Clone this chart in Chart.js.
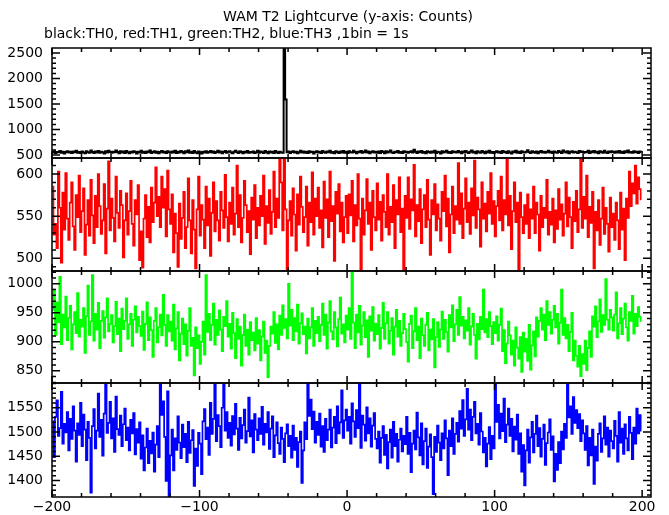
<!DOCTYPE html>
<html>
<head>
<meta charset="utf-8">
<script src="https://cdn.jsdelivr.net/npm/chart.js@4.4.0/dist/chart.umd.min.js"></script>
<style>
  body { margin: 0; background: #fff; }
  #wrap { position: relative; width: 669px; height: 515px; }
  #wrap canvas { position: absolute; left: 0; }
</style>
</head>
<body>
<div id="wrap">
  <canvas id="c0"></canvas>
  <canvas id="c1"></canvas>
  <canvas id="c2"></canvas>
  <canvas id="c3"></canvas>
</div>
<script>
const titleText = 'WAM T2 Lightcurve (y-axis: Counts)';
const subtitleText = 'black:TH0, red:TH1, green:TH2, blue:TH3 ,1bin = 1s';

const binStart = -200; // left edge of first 1 s bin

// counts per 1 s bin
const th0 = [
  548, 572, 539, 561, 553, 580, 544, 566, 531, 558, 575, 549, 562, 538, 570, 552, 584, 546, 559, 541,
  567, 550, 533, 574, 556, 545, 588, 560, 537, 569, 551, 579, 542, 563, 555, 530, 571, 548, 582, 557,
  543, 565, 552, 590, 561, 536, 573, 549, 568, 540, 577, 555, 534, 562, 547, 575, 558, 529, 566, 551,
  581, 546, 563, 537, 570, 553, 587, 541, 559, 574, 545, 566, 532, 557, 578, 550, 563, 538, 572, 556,
  544, 569, 551, 583, 539, 562, 548, 576, 557, 535, 571, 553, 590, 546, 564, 541, 579, 555, 536, 568,
  553, 528, 566, 549, 574, 543, 561, 580, 547, 570, 538, 559, 584, 551, 567, 534, 560, 576, 545, 563,
  571, 549, 536, 562, 585, 554, 541, 573, 558, 532, 566, 550, 579, 543, 561, 547, 570, 537, 556, 582,
  545, 567, 552, 539, 576, 560, 533, 569, 548, 563, 541, 578, 555, 537, 566, 551, 546, 2575, 1590, 552,
  568, 541, 559, 574, 547, 563, 535, 556, 581, 549, 570, 542, 562, 538, 575, 553, 566, 531, 559, 572,
  550, 564, 537, 578, 556, 543, 569, 552, 585, 546, 561, 533, 573, 558, 541, 567, 549, 576, 544, 562,
  539, 571, 555, 548, 583, 561, 536, 566, 552, 577, 543, 560, 589, 547, 568, 534, 557, 574, 551, 563,
  545, 568, 541, 580, 557, 533, 571, 549, 562, 586, 550, 538, 565, 553, 577, 544, 560, 539, 573, 556,
  566, 542, 559, 575, 548, 601, 563, 537, 569, 554, 580, 546, 561, 535, 572, 558, 543, 567, 551, 584,
  540, 562, 555, 531, 573, 549, 566, 582, 545, 559, 538, 571, 553, 564, 547, 579, 557, 534, 568, 550,
  576, 553, 541, 565, 587, 548, 562, 536, 571, 555, 544, 578, 559, 533, 567, 551, 583, 546, 561, 539,
  558, 572, 547, 563, 538, 580, 554, 566, 541, 575, 551, 529, 569, 556, 584, 545, 562, 537, 571, 553,
  548, 565, 591, 552, 539, 573, 557, 544, 568, 535, 561, 579, 550, 566, 542, 557, 583, 548, 563, 538,
  570, 553, 546, 577, 559, 541, 586, 562, 549, 571, 536, 558, 574, 547, 565, 552, 539, 580, 557, 568,
  544, 561, 555, 583, 538, 569, 552, 576, 547, 563, 534, 572, 559, 545, 581, 556, 540, 567, 553, 574,
  557, 542, 568, 551, 579, 546, 563, 537, 572, 555, 588, 549, 561, 543, 575, 552, 566, 539, 570, 558
];
const th1 = [
  585, 528, 541, 512, 603, 560, 495, 578, 534, 601, 547, 522, 566, 590, 538, 510, 575, 549, 598, 531,
  556, 583, 504, 540, 569, 527, 593, 551, 518, 574, 537, 600, 562, 529, 545, 588, 506, 559, 615, 533,
  571, 548, 520, 597, 554, 536, 580, 563, 501, 545, 577, 528, 556, 592, 541, 515, 569, 552, 587, 498,
  532, 489, 547, 575, 525, 561, 519, 584, 543, 566, 608, 550, 573, 537, 597, 560, 582, 526, 604, 558,
  541, 576, 507, 553, 530, 490, 565, 523, 548, 579, 512, 537, 595, 545, 506, 569, 534, 488, 558, 597,
  527, 563, 546, 512, 585, 539, 571, 503, 554, 590, 532, 568, 545, 521, 579, 557, 536, 599, 549, 520,
  566, 541, 584, 528, 553, 610, 537, 575, 519, 548, 592, 563, 531, 556, 505, 572, 546, 587, 524, 560,
  539, 574, 550, 598, 517, 562, 542, 581, 529, 555, 603, 537, 571, 548, 622, 590, 533, 620, 558, 487,
  545, 568, 527, 583, 552, 509, 576, 540, 597, 561, 531, 549, 585, 515, 566, 543, 602, 528, 571, 550,
  584, 536, 557, 513, 591, 548, 570, 525, 603, 544, 562, 497, 579, 553, 588, 532, 566, 519, 549, 574,
  530, 576, 551, 592, 520, 563, 539, 600, 547, 484, 571, 528, 557, 594, 541, 566, 510, 580, 549, 533,
  589, 546, 567, 521, 575, 555, 537, 600, 528, 561, 543, 587, 512, 569, 552, 596, 531, 559, 484, 574,
  548, 596, 535, 570, 557, 611, 526, 563, 544, 582, 518, 558, 575, 537, 593, 546, 504, 569, 552, 588,
  533, 564, 547, 521, 579, 556, 598, 538, 571, 507, 552, 585, 530, 562, 546, 613, 541, 577, 524, 559,
  595, 543, 566, 529, 583, 551, 616, 536, 572, 558, 514, 590, 547, 565, 532, 579, 553, 601, 541, 568,
  526, 562, 580, 545, 597, 533, 569, 552, 620, 539, 574, 511, 556, 590, 543, 566, 487, 578, 549, 530,
  563, 541, 576, 524, 558, 547, 585, 530, 566, 552, 509, 574, 537, 560, 548, 593, 528, 555, 540, 571,
  519, 557, 535, 582, 546, 564, 527, 553, 590, 538, 572, 549, 512, 567, 544, 580, 531, 558, 620, 536,
  573, 547, 598, 525, 561, 542, 579, 488, 555, 533, 569, 516, 547, 584, 529, 560, 541, 508, 572, 537,
  553, 522, 566, 545, 511, 578, 534, 559, 498, 571, 548, 603, 562, 589, 577, 610, 565, 596, 582, 570
];
const th2 = [
  955, 990, 912, 968, 934, 1012, 896, 947, 925, 978, 903, 941, 962, 887, 930, 951, 915, 984, 909, 938,
  926, 958, 881, 944, 997, 912, 935, 1015, 902, 948, 921, 967, 889, 936, 953, 907, 942, 975, 918, 931,
  946, 899, 927, 969, 913, 940, 884, 957, 922, 936, 975, 905, 930, 948, 893, 938, 961, 916, 943, 927,
  910, 952, 886, 931, 968, 903, 942, 920, 874, 936, 958, 899, 925, 947, 911, 981, 929, 893, 946, 918,
  935, 902, 964, 887, 923, 951, 868, 914, 940, 896, 930, 876, 919, 958, 893, 907, 842, 925, 889, 911,
  862, 900, 935, 878, 1015, 917, 948, 903, 929, 966, 895, 938, 912, 954, 921, 884, 943, 927, 970, 909,
  931, 888, 950, 915, 872, 939, 905, 926, 859, 912, 947, 893, 921, 878, 934, 903, 916, 885, 941, 897,
  920, 868, 909, 935, 881, 902, 839, 893, 926, 914, 951, 898, 930, 887, 945, 912, 963, 924, 939, 906,
  1000, 928, 955, 903, 941, 918, 964, 897, 932, 949, 913, 926, 880, 940, 906, 925, 958, 893, 936, 915,
  943, 901, 929, 966, 912, 947, 888, 933, 970, 918, 904, 951, 925, 892, 939, 976, 914, 930, 899, 945,
  921, 958, 905, 1022, 933, 889, 947, 916, 962, 895, 928, 951, 908, 937, 874, 944, 919, 960, 902, 931,
  913, 946, 888, 924, 967, 905, 932, 951, 897, 919, 941, 878, 926, 955, 909, 936, 893, 915, 948, 922,
  900, 866, 931, 945, 889, 918, 958, 903, 926, 872, 940, 911, 893, 929, 950, 885, 921, 904, 939, 856,
  908, 934, 891, 921, 952, 905, 938, 917, 883, 946, 925, 963, 901, 930, 955, 912, 977, 928, 943, 906,
  937, 919, 958, 895, 926, 948, 912, 871, 931, 904, 943, 922, 990, 916, 939, 908, 951, 927, 896, 934,
  915, 944, 902, 929, 957, 884, 920, 863, 897, 935, 911, 878, 902, 859, 925, 890, 871, 908, 848, 916,
  883, 905, 867, 929, 852, 894, 918, 875, 942, 909, 936, 958, 921, 947, 903, 970, 929, 951, 914, 938,
  962, 925, 948, 897, 933, 990, 912, 941, 906, 929, 884, 917, 950, 868, 902, 876, 857, 893, 841, 879,
  862, 902, 851, 889, 918, 874, 944, 926, 961, 908, 935, 973, 917, 946, 929, 1008, 938, 921, 955, 942,
  919, 947, 985, 906, 932, 958, 913, 940, 966, 925, 902, 951, 936, 979, 914, 948, 927, 960, 943, 936
];
const th3 = [
  1522, 1448, 1531, 1565, 1492, 1508, 1583, 1476, 1517, 1499, 1541, 1462, 1527, 1486, 1553, 1503, 1439, 1518, 1494, 1560,
  1471, 1536, 1505, 1442, 1521, 1488, 1375, 1512, 1547, 1466, 1503, 1579, 1490, 1525, 1451, 1538, 1597, 1498, 1519, 1562,
  1487, 1528, 1459, 1573, 1506, 1494, 1534, 1471, 1516, 1548, 1483, 1509, 1462, 1525, 1497, 1539, 1454, 1506, 1478, 1520,
  1445, 1493, 1421, 1468, 1507, 1436, 1482, 1456, 1499, 1418, 1474, 1512, 1448, 1597, 1535, 1563, 1490, 1399, 1584, 1367,
  1452, 1505, 1421, 1487, 1463, 1532, 1478, 1446, 1515, 1469, 1496, 1438, 1521, 1457, 1483, 1504, 1389, 1466, 1430, 1498,
  1476, 1413, 1522, 1547, 1485, 1509, 1453, 1560, 1496, 1527, 1598, 1481, 1535, 1512, 1469, 1550, 1598, 1503, 1541, 1488,
  1519, 1472, 1533, 1495, 1558, 1507, 1463, 1529, 1487, 1514, 1546, 1478, 1502, 1571, 1491, 1524, 1458, 1537, 1505, 1483,
  1528, 1496, 1552, 1474, 1517, 1499, 1541, 1465, 1507, 1532, 1448, 1493, 1520, 1477, 1455, 1509, 1486, 1438, 1497, 1516,
  1471, 1492, 1447, 1513, 1463, 1488, 1428, 1479, 1501, 1395, 1462, 1520, 1485, 1599, 1533, 1567, 1506, 1542, 1478, 1521,
  1494, 1538, 1470, 1512, 1459, 1527, 1483, 1505, 1546, 1468, 1509, 1531, 1477, 1553, 1497, 1520, 1586, 1488, 1524, 1546,
  1503, 1531, 1476, 1559, 1522, 1490, 1545, 1508, 1599, 1467, 1534, 1515, 1482, 1551, 1497, 1528, 1470, 1513, 1539, 1486,
  1466, 1501, 1437, 1488, 1512, 1453, 1494, 1425, 1479, 1505, 1447, 1521, 1471, 1496, 1439, 1484, 1507, 1460, 1492, 1475,
  1531, 1455, 1498, 1417, 1476, 1503, 1464, 1540, 1489, 1452, 1518, 1433, 1481, 1507, 1426, 1470, 1495, 1448, 1372, 1490,
  1459, 1513, 1478, 1442, 1497, 1466, 1524, 1487, 1411, 1503, 1471, 1528, 1455, 1496, 1519, 1480, 1543, 1507, 1566, 1492,
  1526, 1589, 1505, 1546, 1483, 1531, 1562, 1497, 1517, 1474, 1539, 1501, 1458, 1488, 1429, 1476, 1510, 1444, 1492, 1466,
  1598, 1521, 1556, 1487, 1538, 1502, 1569, 1479, 1515, 1548, 1492, 1527, 1460, 1511, 1484, 1536, 1455, 1497, 1418, 1473,
  1390, 1462, 1505, 1437, 1489, 1521, 1458, 1496, 1534, 1471, 1508, 1449, 1486, 1515, 1432, 1477, 1499, 1526, 1463, 1491,
  1398, 1455, 1422, 1479, 1436, 1501, 1464, 1517, 1488, 1597, 1530, 1553, 1496, 1572, 1519, 1545, 1508, 1537, 1481, 1524,
  1497, 1463, 1512, 1431, 1488, 1452, 1505, 1393, 1470, 1441, 1496, 1518, 1459, 1487, 1532, 1474, 1509, 1449, 1503, 1481,
  1466, 1523, 1492, 1439, 1541, 1478, 1507, 1455, 1516, 1487, 1462, 1531, 1498, 1444, 1509, 1476, 1548, 1497, 1535, 1503
];

// tick labels
const xTicks = [-200, -100, 0, 100, 200];
const th0Ticks = [500, 1000, 1500, 2000, 2500];
const th1Ticks = [500, 550, 600];
const th2Ticks = [850, 900, 950, 1000];
const th3Ticks = [1400, 1450, 1500, 1550];

const FONT = { family: 'DejaVu Sans', size: 14 };
const W = 669, H = 515;
const PLOT_RIGHT = 651, PAD = 20;

// panel frames, axis ranges and looks
const panels = [
  { canvas: 'c0', values: th0, ticks: th0Ticks, minor: 100, min: 441, max: 2598, color: '#000000', width: 2, top: 48, bottom: 158 },
  { canvas: 'c1', values: th1, ticks: th1Ticks, minor: 10, min: 485, max: 619, color: '#ff0000', width: 1.7, top: 158, bottom: 271 },
  { canvas: 'c2', values: th2, ticks: th2Ticks, minor: 10, min: 829, max: 1022, color: '#00ff00', width: 1.7, top: 271, bottom: 383 },
  { canvas: 'c3', values: th3, ticks: th3Ticks, minor: 10, min: 1366, max: 1601, color: '#0000ff', width: 1.7, top: 383, bottom: 497 }
];

// box round each panel with inward ticks on all four sides
const framePlugin = {
  id: 'frame',
  afterDatasetsDraw(chart, args, opts) {
    const { ctx, chartArea: a, scales: { x, y } } = chart;
    ctx.save();
    ctx.strokeStyle = '#000';
    ctx.lineWidth = 1.5;
    ctx.strokeRect(a.left, a.top, a.right - a.left, a.bottom - a.top);
    ctx.beginPath();
    for (let v = -200; v <= 200; v += 20) {
      const px = x.getPixelForValue(v);
      const len = v % 100 === 0 ? 7 : 4;
      ctx.moveTo(px, a.top); ctx.lineTo(px, a.top + len);
      ctx.moveTo(px, a.bottom); ctx.lineTo(px, a.bottom - len);
    }
    const start = Math.ceil(y.min / opts.minor) * opts.minor;
    for (let v = start; v <= y.max; v += opts.minor) {
      const py = y.getPixelForValue(v);
      const len = opts.major.includes(v) ? 8 : 4;
      ctx.moveTo(a.left, py); ctx.lineTo(a.left + len, py);
      ctx.moveTo(a.right, py); ctx.lineTo(a.right - len, py);
    }
    ctx.stroke();
    ctx.restore();
  }
};

const headerPlugin = {
  id: 'header',
  afterDraw(chart) {
    const ctx = chart.ctx;
    ctx.save();
    ctx.fillStyle = '#000';
    ctx.font = FONT.size + 'px "' + FONT.family + '"';
    ctx.textBaseline = 'middle';
    ctx.textAlign = 'center';
    ctx.fillText(titleText, 348, 17);
    ctx.textAlign = 'left';
    ctx.fillText(subtitleText, 44, 34);
    ctx.restore();
  }
};

panels.forEach((p, k) => {
  const first = k === 0;
  const last = k === panels.length - 1;
  const cv = document.getElementById(p.canvas);
  const top = first ? 0 : p.top - PAD;
  const bottom = last ? H : p.bottom + PAD;
  cv.width = W;
  cv.height = bottom - top;
  cv.style.top = top + 'px';

  new Chart(cv, {
    type: 'line',
    data: {
      datasets: [{
        data: p.values.map((v, i) => ({ x: binStart + i + 0.5, y: v })),
        borderColor: p.color,
        borderWidth: p.width,
        stepped: 'middle',
        pointRadius: 0,
        clip: 0
      }]
    },
    options: {
      responsive: false,
      animation: false,
      events: [],
      layout: { padding: { left: 0, right: W - PLOT_RIGHT, top: p.top - top, bottom: last ? 0 : bottom - p.bottom } },
      plugins: {
        legend: { display: false },
        tooltip: { enabled: false },
        frame: { minor: p.minor, major: p.ticks }
      },
      scales: {
        x: {
          type: 'linear',
          min: -200,
          max: 206,
          display: last,
          grid: { display: false, drawTicks: false },
          border: { display: false },
          afterBuildTicks: s => { s.ticks = xTicks.map(v => ({ value: v })); },
          afterFit: s => { if (last) s.height = H - p.bottom; },
          ticks: {
            padding: 2,
            color: '#000',
            font: FONT,
            maxRotation: 0,
            autoSkip: false,
            callback: v => String(v).replace('-', '\u2212')
          }
        },
        y: {
          min: p.min,
          max: p.max,
          grid: { display: false, drawTicks: false },
          border: { display: false },
          afterBuildTicks: s => { s.ticks = p.ticks.map(v => ({ value: v })); },
          afterFit: s => { s.width = 52; },
          ticks: { padding: 9, color: '#000', font: FONT, callback: v => String(v) }
        }
      }
    },
    plugins: first ? [framePlugin, headerPlugin] : [framePlugin]
  });
});
</script>
</body>
</html>
